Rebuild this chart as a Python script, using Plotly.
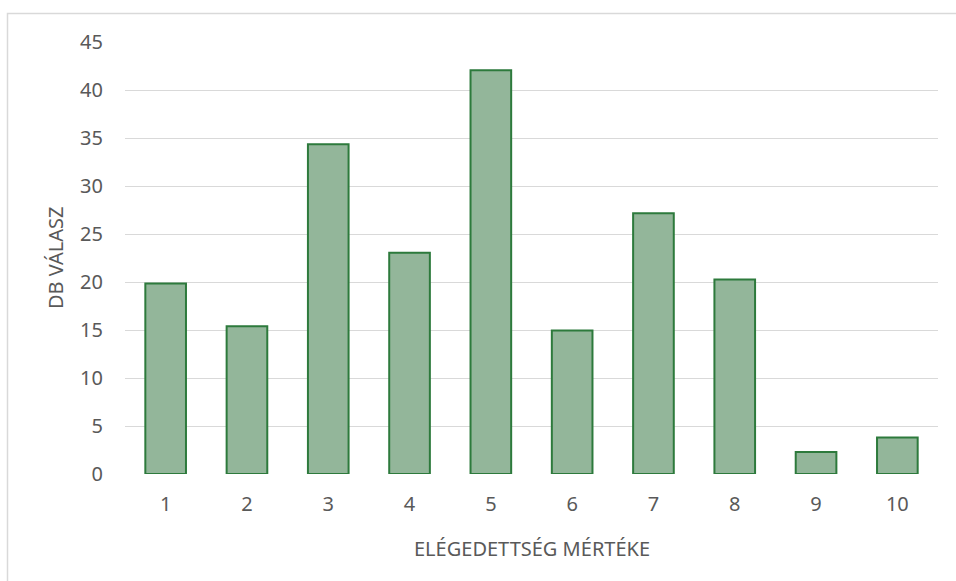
import plotly.graph_objects as go

categories = ["1", "2", "3", "4", "5", "6", "7", "8", "9", "10"]
values = [19.85, 15.4, 34.35, 23.05, 42.05, 14.95, 27.15, 20.25, 2.3, 3.8]
y_ticks = [0, 5, 10, 15, 20, 25, 30, 35, 40, 45]
x_title = "ELÉGEDETTSÉG MÉRTÉKE"
y_title = "DB VÁLASZ"

W, H = 956, 581
L, R, T, B = 125, 18, 42, 107
pw, ph = W - L - R, H - T - B

font_family = "Noto Sans, Open Sans, sans-serif"
grey = "#595959"
fs = 20

fig = go.Figure(go.Bar(
    x=categories, y=values,
    marker=dict(color="#93B69A", line=dict(color="#2D7A3C", width=2)),
    hoverinfo="x+y",
))

def px_x(x):
    return (x - L) / pw

def px_y(y):
    return (H - B - y) / ph

fig.update_layout(
    width=W, height=H,
    margin=dict(l=L, r=R, t=T, b=B),
    paper_bgcolor="white", plot_bgcolor="white",
    bargap=0.5,
    showlegend=False,
    font=dict(family=font_family, color=grey, size=fs),
    xaxis=dict(type="category", showgrid=False, zeroline=False, showline=False,
               ticks="", tickfont=dict(size=fs, color=grey), ticklabelstandoff=16),
    yaxis=dict(range=[0, 45], tickvals=y_ticks, showgrid=True, gridcolor="#D9D9D9",
               gridwidth=1.3, zeroline=False, showline=False, ticks="",
               tickfont=dict(size=fs, color=grey), ticklabelstandoff=21),
    annotations=[
        dict(text=x_title, xref="paper", yref="paper", x=0.5, y=px_y(548),
             showarrow=False, xanchor="center", yanchor="middle",
             font=dict(size=fs, color=grey)),
        dict(text=y_title, xref="paper", yref="paper", x=px_x(55), y=px_y(258),
             showarrow=False, xanchor="center", yanchor="middle", textangle=-90,
             font=dict(size=fs, color=grey)),
    ],
    shapes=[
        dict(type="rect", xref="paper", yref="paper",
             x0=px_x(7.5), x1=px_x(962), y0=px_y(590), y1=px_y(13.5),
             line=dict(color="#D9D9D9", width=1.5), fillcolor="rgba(0,0,0,0)", layer="below"),
    ],
)

fig.write_html("out.html")
